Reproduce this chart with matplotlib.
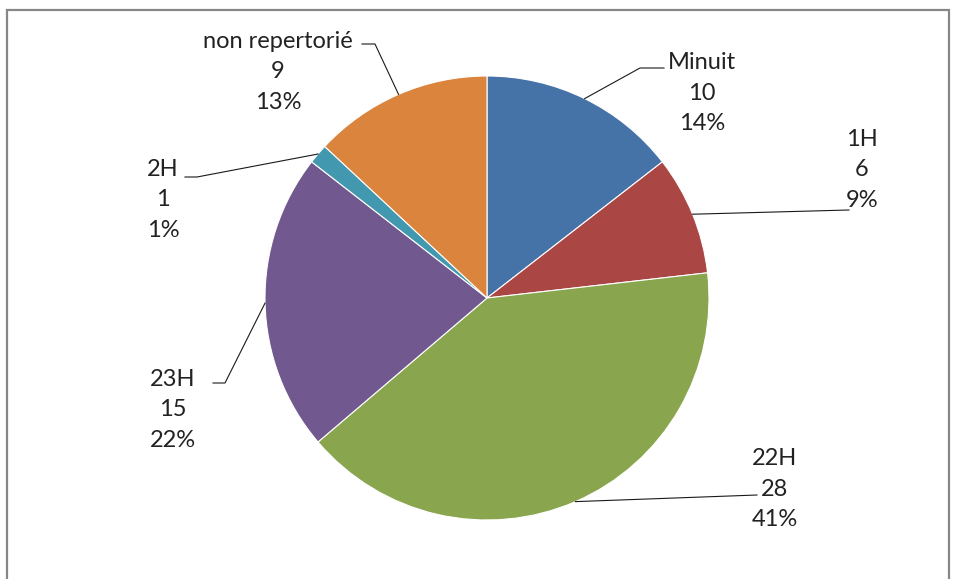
import numpy as np
import matplotlib.pyplot as plt
from matplotlib.patches import Rectangle

# --- DATA ---
labels = ["Minuit", "1H", "22H", "23H", "2H", "non repertorié"]
counts = [10, 6, 28, 15, 1, 9]
colors = ["#4572A7", "#AA4643", "#89A54E", "#71588F", "#4198AF", "#DB843D"]

W, H = 956, 579
CX, CY, R = 487, H - 298, 222

# label layout: (text centre x, middle-line y from top, elbow points from top)
label_pos = {
    "Minuit": (702, 93, [(640, 68), (664, 68)]),
    "1H": (862, 170, [(849, 210)]),
    "22H": (775, 489, [(757, 495)]),
    "23H": (173, 410, [(225, 383), (213, 383)]),
    "2H": (163, 200, [(197, 177), (185, 177)]),
    "non repertorié": (278, 72, [(375, 44), (362, 44)]),
}

plt.rcParams['font.family'] = ['Lato', 'DejaVu Sans']

fig = plt.figure(figsize=(W / 100, H / 100), dpi=100)
ax = fig.add_axes([0, 0, 1, 1])

# chart frame
ax.add_patch(Rectangle((7, -20), 942, H - 10 + 20, fill=False,
                       edgecolor='#878787', linewidth=1.6))

wedges, _ = ax.pie(counts, colors=colors, startangle=90, counterclock=False,
                   center=(CX, CY), radius=R, frame=True,
                   wedgeprops=dict(edgecolor='white', linewidth=0.8))
ax.set_xlim(0, W)
ax.set_ylim(0, H)
ax.set_aspect('equal')
ax.axis('off')

total = sum(counts)
for w, lab, n in zip(wedges, labels, counts):
    mid = np.deg2rad((w.theta1 + w.theta2) / 2)
    px, py = CX + R * np.cos(mid), CY + R * np.sin(mid)
    tx, ty, elbow = label_pos[lab]
    xs = [px] + [e[0] for e in elbow]
    ys = [py] + [H - e[1] for e in elbow]
    ax.plot(xs, ys, color='#1a1a1a', linewidth=0.8)
    pct = round(100 * n / total)
    ax.text(tx, H - ty, f"{lab}\n{n}\n{pct}%", ha='center', va='center',
            multialignment='center', fontsize=17, linespacing=1.55,
            color='#222222')

fig.savefig("out.png", dpi=100)
